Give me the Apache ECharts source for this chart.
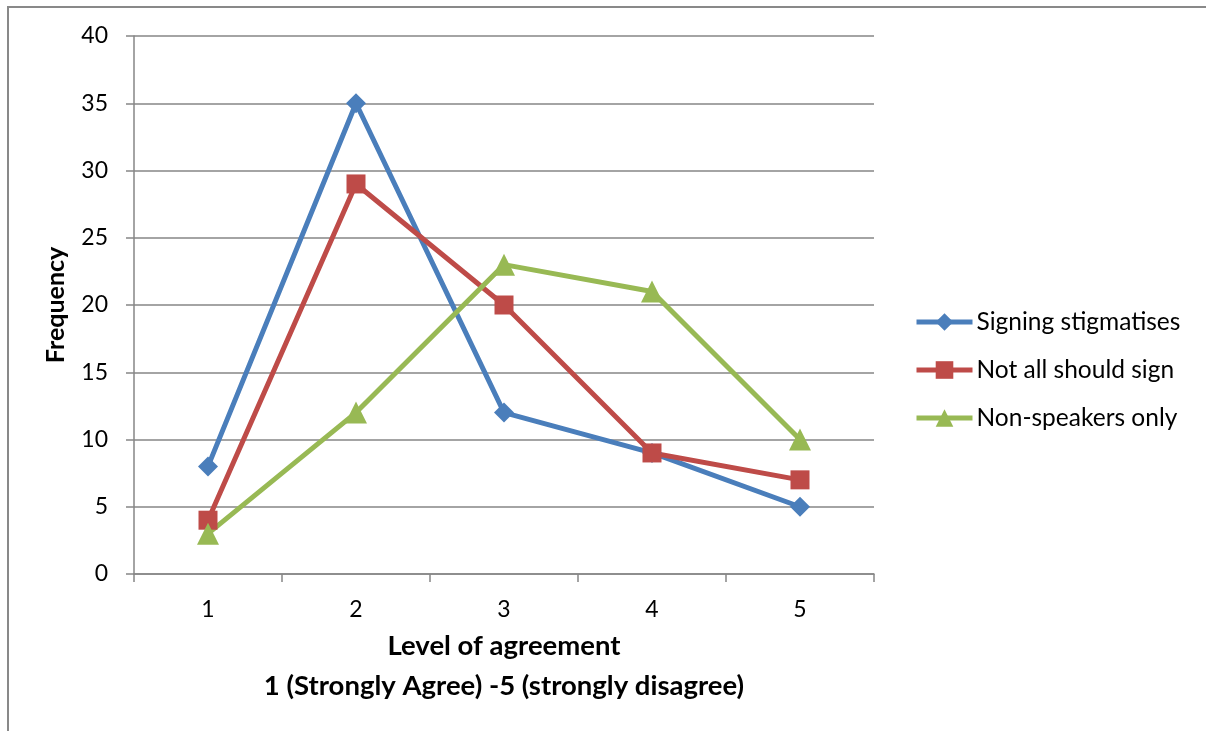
<!DOCTYPE html>
<html>
<head>
<meta charset="utf-8">
<script src="https://cdn.jsdelivr.net/npm/echarts@6/dist/echarts.min.js"></script>
<style>html,body{margin:0;padding:0;background:#fff;}#c{width:1206px;height:731px;}</style>
</head>
<body>
<div id="c"></div>
<script>
const categories = ['1', '2', '3', '4', '5'];
const signingStigmatises = [8, 35, 12, 9, 5];
const notAllShouldSign = [4, 29, 20, 9, 7];
const nonSpeakersOnly = [3, 12, 23, 21, 10];
const seriesNames = ['Signing stigmatises', 'Not all should sign', 'Non-speakers only'];

const FONT = 'Lato, "Open Sans", sans-serif';
const chart = echarts.init(document.getElementById('c'), null, {renderer: 'canvas'});
const mk = (name, data, color, symbol, size) => ({
  name, type: 'line', data, symbol, symbolSize: size,
  lineStyle: {color, width: 5}, itemStyle: {color},
  emphasis: {disabled: true}, animation: false
});
chart.setOption({
  backgroundColor: '#fff',
  animation: false,
  graphic: [{type: 'rect', shape: {x: 8, y: 7, width: 1400, height: 1000},
    style: {fill: 'none', stroke: '#898989', lineWidth: 2}, silent: true}],
  grid: {left: 134, right: 332, top: 36, bottom: 157},
  legend: {
    orient: 'vertical', left: 909, top: 303, itemGap: 20,
    itemWidth: 56, itemHeight: 22,
    lineStyle: {width: 5},
    textStyle: {fontFamily: FONT, fontSize: 24.5, color: '#000', lineHeight: 28, padding: [0, 0, 0, -1]},
    data: seriesNames
  },
  xAxis: {
    type: 'category', data: categories, boundaryGap: true,
    name: 'Level of agreement\n1 (Strongly Agree) -5 (strongly disagree)',
    nameLocation: 'middle', nameGap: 45,
    nameTextStyle: {fontFamily: FONT, fontSize: 27.5, fontWeight: 'bold', color: '#000', lineHeight: 40},
    axisLine: {lineStyle: {color: '#868686', width: 1.5}},
    axisTick: {show: true, length: 8, lineStyle: {color: '#868686', width: 1.5}},
    axisLabel: {fontFamily: FONT, fontSize: 23, color: '#000', margin: 24},
    splitLine: {show: false}
  },
  yAxis: {
    type: 'value', min: 0, max: 40, interval: 5,
    name: 'Frequency', nameLocation: 'middle', nameGap: 66, nameRotate: 90,
    nameTextStyle: {fontFamily: FONT, fontSize: 25, fontWeight: 'bold', color: '#000'},
    axisLine: {show: true, lineStyle: {color: '#868686', width: 1.5}},
    axisTick: {show: true, length: 8, lineStyle: {color: '#868686', width: 1.5}},
    axisLabel: {fontFamily: FONT, fontSize: 23, color: '#000', margin: 26},
    splitLine: {lineStyle: {color: '#868686', width: 1.5}}
  },
  series: [
    mk(seriesNames[0], signingStigmatises, '#4A7EBB', 'diamond', 20),
    mk(seriesNames[1], notAllShouldSign, '#BE4B48', 'rect', 19),
    mk(seriesNames[2], nonSpeakersOnly, '#98B954', 'triangle', 22)
  ]
});
</script>
</body>
</html>
